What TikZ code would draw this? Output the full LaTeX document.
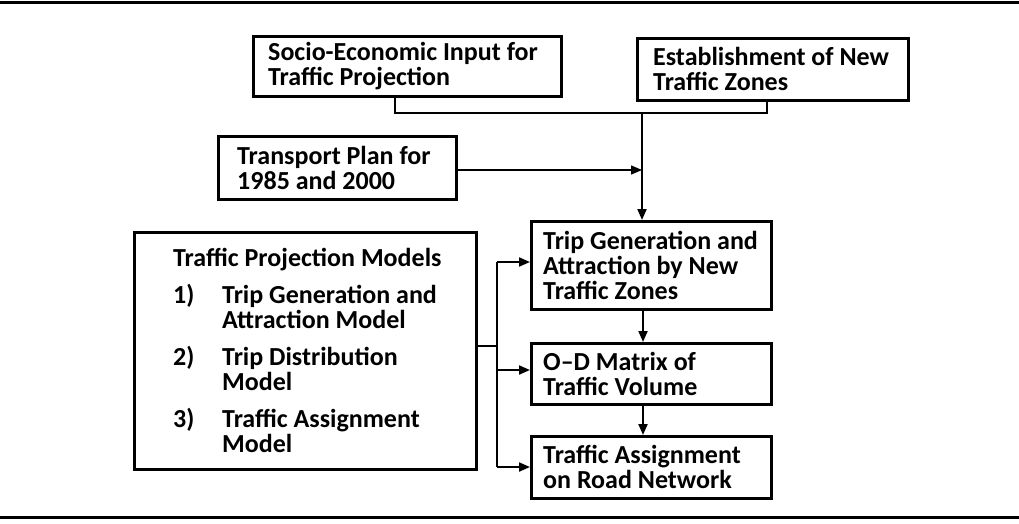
\documentclass[tikz,border=0pt]{standalone}
\usepackage{fontspec}
\setmainfont{Carlito}
\usetikzlibrary{arrows.meta}
\tikzset{
  box/.style={draw, line width=2.6pt, rectangle, anchor=north west, inner sep=0pt},
  lbl/.style={anchor=west, align=left, inner sep=0pt,
    font=\bfseries\fontsize{26}{25}\selectfont},
  conn/.style={line width=2pt},
  arr/.style={line width=2pt, -{Triangle[length=11pt,width=9pt]}},
  thinarr/.style={line width=1.3pt, -{Triangle[length=11pt,width=9pt]}},
  rule/.style={line width=3pt}
}
\begin{document}
\begin{tikzpicture}[x=1pt,y=-1pt]
\useasboundingbox (0,0) rectangle (1019,523);
\fill[white] (0,0) rectangle (1019,523);
\draw[rule] (0,2) -- (1019,2);
\draw[rule] (0,517) -- (1019,517);

\node[box, minimum width=308pt, minimum height=60pt,
  label={[lbl, xshift=16pt]west:{Socio-Economic Input for\\Traffic Projection}}] (socio) at (252,35) {};
\node[box, minimum width=271pt, minimum height=62pt,
  label={[lbl, xshift=17pt]west:{Establishment of New\\Traffic Zones}}] (estab) at (636,37) {};
\node[box, minimum width=238pt, minimum height=63pt,
  label={[lbl, xshift=20pt]west:{Transport Plan for\\1985 and 2000}}] (plan) at (217,135) {};
\node[box, minimum width=342pt, minimum height=237pt,
  label={[lbl, xshift=40pt]west:{Traffic Projection Models\\[12pt]
   \makebox[49pt][l]{1)}Trip Generation and\\
   \hspace*{49pt}Attraction Model\\[12pt]
   \makebox[49pt][l]{2)}Trip Distribution\\
   \hspace*{49pt}Model\\[12pt]
   \makebox[49pt][l]{3)}Traffic Assignment\\
   \hspace*{49pt}Model}}] (models) at (133,231) {};
\node[box, minimum width=240pt, minimum height=88pt,
  label={[lbl, xshift=13pt]west:{Trip Generation and\\Attraction by New\\Traffic Zones}}] (tripgen) at (530,220) {};
\node[box, minimum width=240pt, minimum height=61pt,
  label={[lbl, xshift=13pt]west:{O--D Matrix of\\Traffic Volume}}] (od) at (530,342) {};
\node[box, minimum width=240pt, minimum height=62pt,
  label={[lbl, xshift=13pt]west:{Traffic Assignment\\on Road Network}}] (assign) at (530,435) {};

\coordinate (join) at (642,113);
\coordinate (bus) at (497,346);
\coordinate (bustop) at (497,262);
\coordinate (busbot) at (497,467);

\draw[conn] (socio.south -| 395,0) |- (join);
\draw[conn] (estab.south -| 767,0) |- (join);
\draw[arr] (join) -- (join |- tripgen.north);
\draw[thinarr] (plan.east |- 0,170) -- (join |- 0,170);

\draw[conn] (models.east |- bus) -- (bus);
\draw[conn] (bustop) -- (busbot);
\draw[arr] (bustop) -- (tripgen.west |- bustop);
\draw[arr] (bustop |- 0,370) -- (od.west |- 0,370);
\draw[arr] (busbot) -- (assign.west |- busbot);

\draw[arr] (tripgen.south -| 643,0) -- (od.north -| 643,0);
\draw[arr] (od.south -| 643,0) -- (assign.north -| 643,0);
\end{tikzpicture}
\end{document}
